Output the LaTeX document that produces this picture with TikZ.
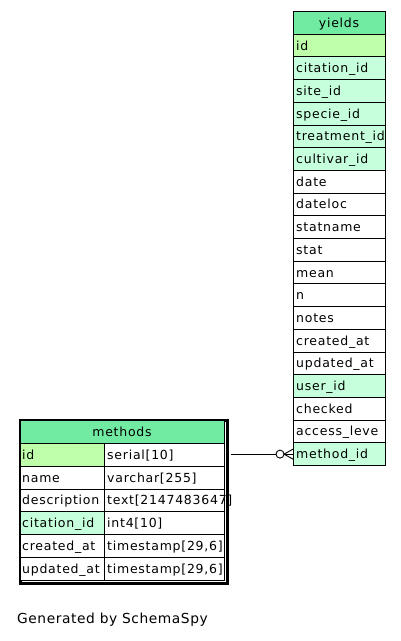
\documentclass[tikz,border=0pt]{standalone}
\usepackage{fontspec}
\setmainfont{DejaVu Sans}
\newfontfamily\celfont[LetterSpace=6]{DejaVu Sans}
\newfontfamily\genfont[LetterSpace=4]{DejaVu Sans}
\begin{document}
\begin{tikzpicture}[x=1pt,y=-1pt,
  cell/.style={draw=black,line width=0.9pt,rectangle,inner sep=0pt,anchor=north west,minimum height=22.75pt},
  hdr/.style={cell,fill=hdrgreen},
  pk/.style={fill=pkgreen},
  fk/.style={fill=fkgreen},
  nc/.style={fill=white},
  txt/.style={anchor=base west,inner sep=0pt,font=\celfont\fontsize{12.5}{14}\selectfont},
  htxt/.style={anchor=base,inner sep=0pt,font=\celfont\fontsize{12.5}{14}\selectfont},
  rel/.style={draw=black,line width=0.9pt}
]
\definecolor{hdrgreen}{HTML}{72EBA2}
\definecolor{pkgreen}{HTML}{BFFFAA}
\definecolor{fkgreen}{HTML}{C6FFDC}
\useasboundingbox[fill=white] (0,0) rectangle (401,641);

% ---------- yields ----------
\node[hdr,minimum width=92pt] (yh) at (293,11) {};
\node[htxt] (yht) at (339,27.5) {yields};
\foreach \nm/\kd [count=\i] in {id/pk,citation\_id/fk,site\_id/fk,specie\_id/fk,treatment\_id/fk,cultivar\_id/fk,date/nc,dateloc/nc,statname/nc,stat/nc,mean/nc,n/nc,notes/nc,created\_at/nc,updated\_at/nc,user\_id/fk,checked/nc,access\_leve/nc,method\_id/fk}{
  \node[cell,\kd,minimum width=92pt] (y\i) at (293,{11+\i*22.7}) {};
  \node[txt] (yt\i) at (296,{11+\i*22.7+16.3}) {\nm};
}

% ---------- methods ----------
\node[draw=black,line width=3.6pt,rectangle,inner sep=0pt,anchor=north west,minimum width=207pt,minimum height=163pt] (mb) at (18.8,418.8) {};
\node[hdr,minimum width=204pt,minimum height=22.85pt] (mh) at (20,420) {};
\node[htxt] (mht) at (122,436.5) {methods};
\foreach \nm/\tp/\kd [count=\i] in {id/serial[10]/pk,name/varchar[255]/nc,description/text[2147483647]/nc,citation\_id/int4[10]/fk,created\_at/timestamp[29{,}6]/nc,updated\_at/timestamp[29{,}6]/nc}{
  \node[cell,\kd,minimum width=84pt,minimum height=22.85pt] (m\i) at (20,{420+\i*22.85}) {};
  \node[cell,nc,minimum width=120pt,minimum height=22.85pt] (mt\i) at (104,{420+\i*22.85}) {};
  \node[txt] (mn\i) at (22,{420+\i*22.85+16.3}) {\nm};
  \node[txt] (mtt\i) at (107,{420+\i*22.85+16.3}) {\tp};
}

% ---------- relationship ----------
\coordinate (ye) at (y19.west);
\coordinate (ms) at ([xshift=1.8pt]mb.east |- ye);
\coordinate (cf) at ([xshift=-9pt]ye);
\node[draw=black,line width=0.9pt,circle,fill=white,inner sep=0pt,minimum size=8pt] (circ) at ([xshift=-4pt]cf) {};
\draw[rel] (ms) -- (circ.west);
\draw[rel] (cf) -- ([yshift=-5pt]ye);
\draw[rel] (cf) -- (ye);
\draw[rel] (cf) -- ([yshift=5pt]ye);

% ---------- footer ----------
\node[anchor=base west,inner sep=0pt,font=\genfont\fontsize{13.8}{16}\selectfont] (gen) at (17,623) {Generated by SchemaSpy};
\end{tikzpicture}
\end{document}
